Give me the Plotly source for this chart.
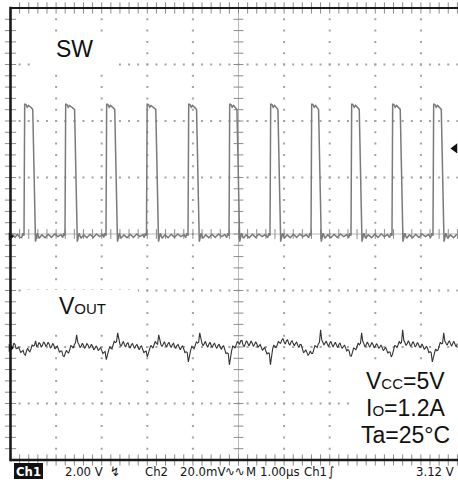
import plotly.graph_objects as go

# ------------------------------------------------------------------
# Data
# ------------------------------------------------------------------
CH1_SCALE_V = 2.00        # V/div   (SW)
CH2_SCALE_MV = 20.0       # mV/div  (VOUT, AC)
TIME_SCALE_US = 1.00      # us/div
TRIG_LEVEL_V = 3.12
CH1_CENTER_V = 0.09       # Ch1 value at screen centre line
CH2_CENTER_MV = 40.3      # Ch2 value at screen centre line

# SW node: edge times (us)
SW_RISE_US = [0.296, 1.195, 2.094, 2.982, 3.893, 4.792, 5.691, 6.590, 7.467, 8.366, 9.265]
SW_FALL_US = [0.548, 1.465, 2.346, 3.246, 4.140, 5.026, 5.925, 6.816, 7.708, 8.607, 9.507]
# start of trace before first pulse (t us, V)
SW_LEAD_T = [0.00, 0.05, 0.10, 0.15, 0.20]
SW_LEAD_V = [0.02, 0.07, -0.03, 0.08, -0.02]
# shape around a rising edge: offsets from rise (us) and level (V)
SW_RISE_DT = [-0.05, -0.025, 0.0, 0.015, 0.05, 0.07, 0.10]
SW_RISE_V = [-0.04, 0.12, 0.03, 4.70, 4.66, 4.58, 4.64]
# shape around a falling edge: offsets from fall (us) and level (V)
SW_FALL_DT = [-0.09, -0.06, 0.0, 0.04, 0.08, 0.14, 0.21, 0.28, 0.35, 0.42, 0.49, 0.56]
SW_FALL_V = [4.56, 4.50, -0.18, 0.12, -0.06, 0.06, -0.04, 0.08, -0.03, 0.09, 0.00, 0.07]

# VOUT ripple (mV, AC coupled): samples every 0.05 us ...
VOUT_DT_US = 0.05
VOUT_MV = [
    0.0, 0.4, 1.2, -0.2, -0.7, -1.3, -2.2, -1.2, -1.0, -0.3,
    0.6, 2.5, 0.8, 1.4, 0.9, 1.6, 1.0, 1.3, 0.4, 0.9,
    0.1, -0.4, -1.1, -2.8, -2.0, -1.5, -0.6, 0.5, 1.1, 4.6,
    1.2, 0.6, 0.9, 0.5, 1.0, 0.3, 0.6, -0.2, 0.1, -0.5,
    -0.9, -1.6, -4.2, -1.0, -0.2, 1.0, 1.9, 5.3, 1.3, 1.8,
    1.0, 1.4, 0.6, 1.1, 0.5, 0.8, 0.0, 0.4, -0.6, -1.3,
    -3.2, -0.5, 0.4, 1.2, 1.6, 4.6, 1.1, 1.7, 1.0, 1.4,
    0.8, 1.2, 0.4, 0.8, 0.1, 0.3, -0.4, -1.4, -5.0, -0.9,
    0.2, 0.8, 1.7, 5.3, 1.5, 1.8, 1.0, 1.3, 0.9, 1.2,
    0.5, 0.8, 0.2, 0.4, -0.6, -1.8, -6.0, -1.0, 0.4, 1.0,
    1.8, 2.5, 1.0, 1.5, 1.8, 1.4, 1.7, 1.2, 1.5, 0.7,
    0.2, -0.3, -1.1, -1.8, -6.0, -0.3, 0.5, 1.1, 1.8, 2.8,
    2.1, 2.4, 1.6, 2.0, 1.5, 1.6, 0.9, 1.2, -0.3, -1.4,
    -1.6, -2.1, -2.0, -0.7, 0.5, 1.4, 6.4, 2.0, 1.8, 1.3,
    1.6, 1.2, 1.3, 0.9, 1.2, 0.6, 0.5, -0.1, -0.6, -2.8,
    -1.5, -0.3, 0.5, 1.1, 5.3, 1.4, 1.1, 1.3, 0.9, 1.2,
    0.6, 0.9, 0.3, 0.1, -0.5, -0.7, -1.4, -3.2, -0.8, 0.7,
    1.1, 1.6, 6.4, 1.9, 1.5, 1.6, 1.2, 1.5, 0.9, 1.2,
    0.6, 0.5, 0.0, -0.4, -1.4, -5.0, -1.7, -1.0, 0.7, 1.4,
    5.3, 1.6, 1.9, 1.4, 1.6, 1.2, 1.5,
]
# ... and the noise samples half-way between them
VOUT_MID_MV = [
    -0.7, 1.7, -0.3, 0.4, -1.6, -0.9, -2.6, -0.1, -1.4, 1.0,
    0.9, 0.5, 1.9, 0.2, 2.1, 0.5, 2.0, -0.1, 1.6, -0.4,
    0.6, -1.6, -1.1, -3.1, -0.9, -1.8, 0.8, -0.1, 1.8, 2.0,
    0.1, 1.6, -0.2, 1.5, -0.1, 1.3, -0.7, 0.7, -1.0, 0.1,
    -2.0, -1.3, -1.9, 0.3, -0.4, 2.3, 2.2, 2.4, 0.6, 2.3,
    0.3, 1.9, -0.1, 1.6, -0.2, 1.2, -0.7, 0.7, -1.8, -1.2,
    -2.0, 0.9, -0.1, 2.3, 1.3, 2.2, 0.5, 2.2, 0.3, 2.0,
    0.1, 1.6, -0.2, 1.2, -0.7, 0.7, -1.7, -1.6, -2.2, 0.5,
    -0.3, 2.1, 1.9, 2.6, 0.7, 2.3, 0.2, 2.0, 0.1, 1.6,
    -0.2, 1.3, -0.6, 0.7, -2.0, -2.0, -2.6, 0.6, -0.1, 2.3,
    1.4, 2.6, 0.4, 2.5, 0.7, 2.4, 0.5, 2.1, 0.2, 1.2,
    -0.9, 0.1, -2.2, -1.9, -1.8, 1.0, 0.0, 2.3, 1.6, 3.3,
    1.3, 2.9, 0.9, 2.5, 0.7, 2.0, 0.1, 1.1, -1.6, -0.7,
    -2.6, -1.1, -2.0, 0.8, 0.1, 2.0, 2.8, 1.0, 2.4, 0.5,
    2.3, 0.3, 2.0, 0.1, 1.7, -0.2, 1.0, -1.1, -1.0, -2.9,
    -0.1, -0.7, 1.7, 1.6, 2.3, 0.3, 2.1, 0.2, 1.9, 0.0,
    1.5, -0.2, 1.0, -1.0, 0.2, -1.9, -1.5, -2.4, 0.8, 0.0,
    2.3, 1.9, 2.7, 0.8, 2.5, 0.5, 2.2, 0.3, 1.9, 0.1,
    1.4, -0.6, 0.6, -1.7, -1.7, -2.8, -0.4, -0.8, 2.0, 1.6,
    2.4, 0.9, 2.5, 0.6, 2.3, 0.4,
]

LABEL_SW = "SW"
LABEL_VOUT = ("V", "OUT")
COND_LINES = [("V", "CC", "=5V"), ("I", "O", "=1.2A"), ("Ta", "", "=25°C")]
STATUS_TOKENS = ["2.00 V", "↯", "Ch2", "20.0mV", "∿∿", "M", "1.00µs", "Ch1", "∫", "3.12 V"]

# ------------------------------------------------------------------
# Layout geometry (pixels of the 458x482 screenshot)
# ------------------------------------------------------------------
W, H = 458, 482
PX_LEFT, PX_TOP, PX_BOTTOM = 10.5, 8.0, 460.0
PX_DIV_X = 45.6
PX_DIV_Y = (PX_BOTTOM - PX_TOP) / 8.0
PX_MID_Y = (PX_TOP + PX_BOTTOM) / 2.0
X_MAX = (W - PX_LEFT) / PX_DIV_X * TIME_SCALE_US
XDOM = [PX_LEFT / W, 1.0]
YDOM = [1 - PX_BOTTOM / H, 1 - PX_TOP / H]


def bx(px):
    return (px - PX_LEFT) / PX_DIV_X


def by(py):
    return (PX_MID_Y - py) / PX_DIV_Y


def pxp(px):
    return px / W


def pyp(py):
    return 1 - py / H


# ------------------------------------------------------------------
# Build SW polyline from the edge readings
# ------------------------------------------------------------------
sw_t = list(SW_LEAD_T)
sw_v = list(SW_LEAD_V)
for k, (tr, tf) in enumerate(zip(SW_RISE_US, SW_FALL_US)):
    for dt, v in zip(SW_RISE_DT, SW_RISE_V):
        t = tr + dt
        if t > sw_t[-1]:
            sw_t.append(t); sw_v.append(v)
    nxt = SW_RISE_US[k + 1] - 0.06 if k + 1 < len(SW_RISE_US) else X_MAX
    for dt, v in zip(SW_FALL_DT, SW_FALL_V):
        t = tf + dt
        if sw_t[-1] < t < nxt:
            sw_t.append(t); sw_v.append(v)

vout_t, vout_v = [], []
for i, v in enumerate(VOUT_MV):
    vout_t.append(i * VOUT_DT_US); vout_v.append(v)
    if i < len(VOUT_MID_MV):
        vout_t.append((i + 0.5) * VOUT_DT_US); vout_v.append(VOUT_MID_MV[i])

fig = go.Figure()

GRID_C = "#a3a3a3"
TICK_C = "#8c8c8c"

# grid dots
gx, gy = [], []
for j in [-3, -2, -1, 1, 2, 3]:
    for k in range(1, 50):
        gx.append(k * 0.2); gy.append(j)
for i in [1, 2, 3, 4, 6, 7, 8, 9]:
    for k in range(1, 40):
        gx.append(i); gy.append(-4 + k * 0.2)
fig.add_trace(go.Scatter(x=gx, y=gy, mode="markers", hoverinfo="skip",
                         marker=dict(symbol="square", size=2, color=GRID_C, line=dict(width=0))))

# minor ticks: left border, centre vertical
ty = [-4 + k * 0.2 for k in range(1, 40)]
fig.add_trace(go.Scatter(x=[0] * len(ty), y=ty, mode="markers", cliponaxis=False, hoverinfo="skip",
                         marker=dict(symbol="line-ew", size=8, line=dict(width=1, color=TICK_C))))
fig.add_trace(go.Scatter(x=[5] * len(ty), y=ty, mode="markers", hoverinfo="skip",
                         marker=dict(symbol="line-ew", size=7, line=dict(width=1, color=TICK_C))))
tx = [k * 0.2 for k in range(1, 50)]
for yy, sz in [(4, 8), (-4, 8), (0, 7)]:
    fig.add_trace(go.Scatter(x=tx, y=[yy] * len(tx), mode="markers", cliponaxis=False, hoverinfo="skip",
                             marker=dict(symbol="line-ns", size=sz, line=dict(width=1, color=TICK_C))))

# white label backgrounds
for (x0, x1, y0, y1) in [(35, 113, 33, 72), (23, 138, 290, 332), (355, 462, 362, 452)]:
    fig.add_trace(go.Scatter(x=[bx(x0), bx(x1), bx(x1), bx(x0), bx(x0)],
                             y=[by(y0), by(y0), by(y1), by(y1), by(y0)],
                             mode="lines", fill="toself", fillcolor="white",
                             line=dict(width=0, color="white"), hoverinfo="skip", cliponaxis=False))

# waveforms
fig.add_trace(go.Scatter(x=sw_t, y=sw_v, yaxis="y2", mode="lines", hoverinfo="skip",
                         line=dict(color="#7a7a7a", width=1.5)))
fig.add_trace(go.Scatter(x=vout_t, y=vout_v, yaxis="y3", mode="lines", hoverinfo="skip",
                         line=dict(color="#333333", width=1.1)))

# ground markers and trigger level marker
fig.add_trace(go.Scatter(x=[0], y=[0], yaxis="y2", mode="markers", cliponaxis=False, hoverinfo="skip",
                         marker=dict(symbol="triangle-right", size=7, color="#111")))
fig.add_trace(go.Scatter(x=[0], y=[0], yaxis="y3", mode="markers", cliponaxis=False, hoverinfo="skip",
                         marker=dict(symbol="triangle-right", size=7, color="#111")))
fig.add_trace(go.Scatter(x=[bx(455)], y=[TRIG_LEVEL_V], yaxis="y2", mode="markers", cliponaxis=False,
                         hoverinfo="skip", marker=dict(symbol="triangle-left", size=9, color="#111")))

shapes = []
# centre lines
shapes.append(dict(type="line", xref="x", yref="y", x0=5, x1=5, y0=-4, y1=4,
                   line=dict(color="#b8b8b8", width=1), layer="below"))
shapes.append(dict(type="line", xref="x", yref="y", x0=0, x1=X_MAX, y0=0, y1=0,
                   line=dict(color="#b8b8b8", width=1), layer="below"))
# frame
FR = "#1a1a1a"
shapes.append(dict(type="line", xref="paper", yref="paper", x0=XDOM[0], x1=XDOM[0],
                   y0=YDOM[0] - 1.2 / H, y1=YDOM[1] + 1.2 / H, line=dict(color=FR, width=2.6)))
shapes.append(dict(type="line", xref="paper", yref="paper", x0=XDOM[0], x1=1,
                   y0=YDOM[1], y1=YDOM[1], line=dict(color=FR, width=2.2)))
shapes.append(dict(type="line", xref="paper", yref="paper", x0=XDOM[0], x1=1,
                   y0=YDOM[0], y1=YDOM[0], line=dict(color=FR, width=2.4)))
# Ch1 tag box in status bar
shapes.append(dict(type="rect", xref="paper", yref="paper", x0=pxp(14), x1=pxp(43),
                   y0=pyp(479), y1=pyp(463), fillcolor="#111", line=dict(width=0)))

BIG = dict(family="Liberation Sans, Arial, sans-serif", size=23, color="#111")
ann = []
ann.append(dict(x=bx(74), y=by(49), xref="x", yref="y", text=LABEL_SW, showarrow=False,
                font=BIG, xanchor="center", yanchor="middle"))
ann.append(dict(x=bx(57), y=by(306), xref="x", yref="y",
                text=LABEL_VOUT[0] + "<span style='font-size:15px'>" + LABEL_VOUT[1] + "</span>",
                showarrow=False, font=BIG, xanchor="left", yanchor="middle"))
for (a, b, c), cy in zip(COND_LINES, [381, 408, 435]):
    txt = a + ("<span style='font-size:15px'>" + b + "</span>" if b else "") + c
    ann.append(dict(x=bx(405), y=by(cy), xref="x", yref="y", text=txt, showarrow=False,
                    font=BIG, xanchor="center", yanchor="middle"))

SB = dict(family="Liberation Sans Narrow, DejaVu Sans Condensed, Arial Narrow, sans-serif",
          size=13, color="#151515")
ann.append(dict(x=pxp(28.5), y=pyp(471), xref="paper", yref="paper", text="<b>Ch1</b>",
                showarrow=False, font=dict(SB, color="white"), xanchor="center", yanchor="middle"))
STATUS_POS = [(63, "left"), (115, "center"), (143, "left"), (178, "left"), (235, "center"),
              (244, "left"), (258, "left"), (302, "left"), (331, "center"), (414, "left")]
for tok, (px, anc) in zip(STATUS_TOKENS, STATUS_POS):
    ann.append(dict(x=pxp(px), y=pyp(471), xref="paper", yref="paper", text=tok,
                    showarrow=False, font=SB, xanchor=anc, yanchor="middle"))

fig.update_layout(
    width=W, height=H, margin=dict(l=0, r=0, t=0, b=0),
    paper_bgcolor="white", plot_bgcolor="white", showlegend=False,
    xaxis=dict(domain=XDOM, range=[0, X_MAX], visible=False, fixedrange=True),
    yaxis=dict(domain=YDOM, range=[-4, 4], visible=False, fixedrange=True),
    yaxis2=dict(overlaying="y", range=[CH1_CENTER_V - 4 * CH1_SCALE_V, CH1_CENTER_V + 4 * CH1_SCALE_V],
                visible=False, fixedrange=True),
    yaxis3=dict(overlaying="y", range=[CH2_CENTER_MV - 4 * CH2_SCALE_MV, CH2_CENTER_MV + 4 * CH2_SCALE_MV],
                visible=False, fixedrange=True),
    shapes=shapes, annotations=ann,
)

fig.write_html("out.html", config={"displayModeBar": False, "staticPlot": True},
               post_script="document.body.style.margin='0';document.body.style.overflow='hidden';")
